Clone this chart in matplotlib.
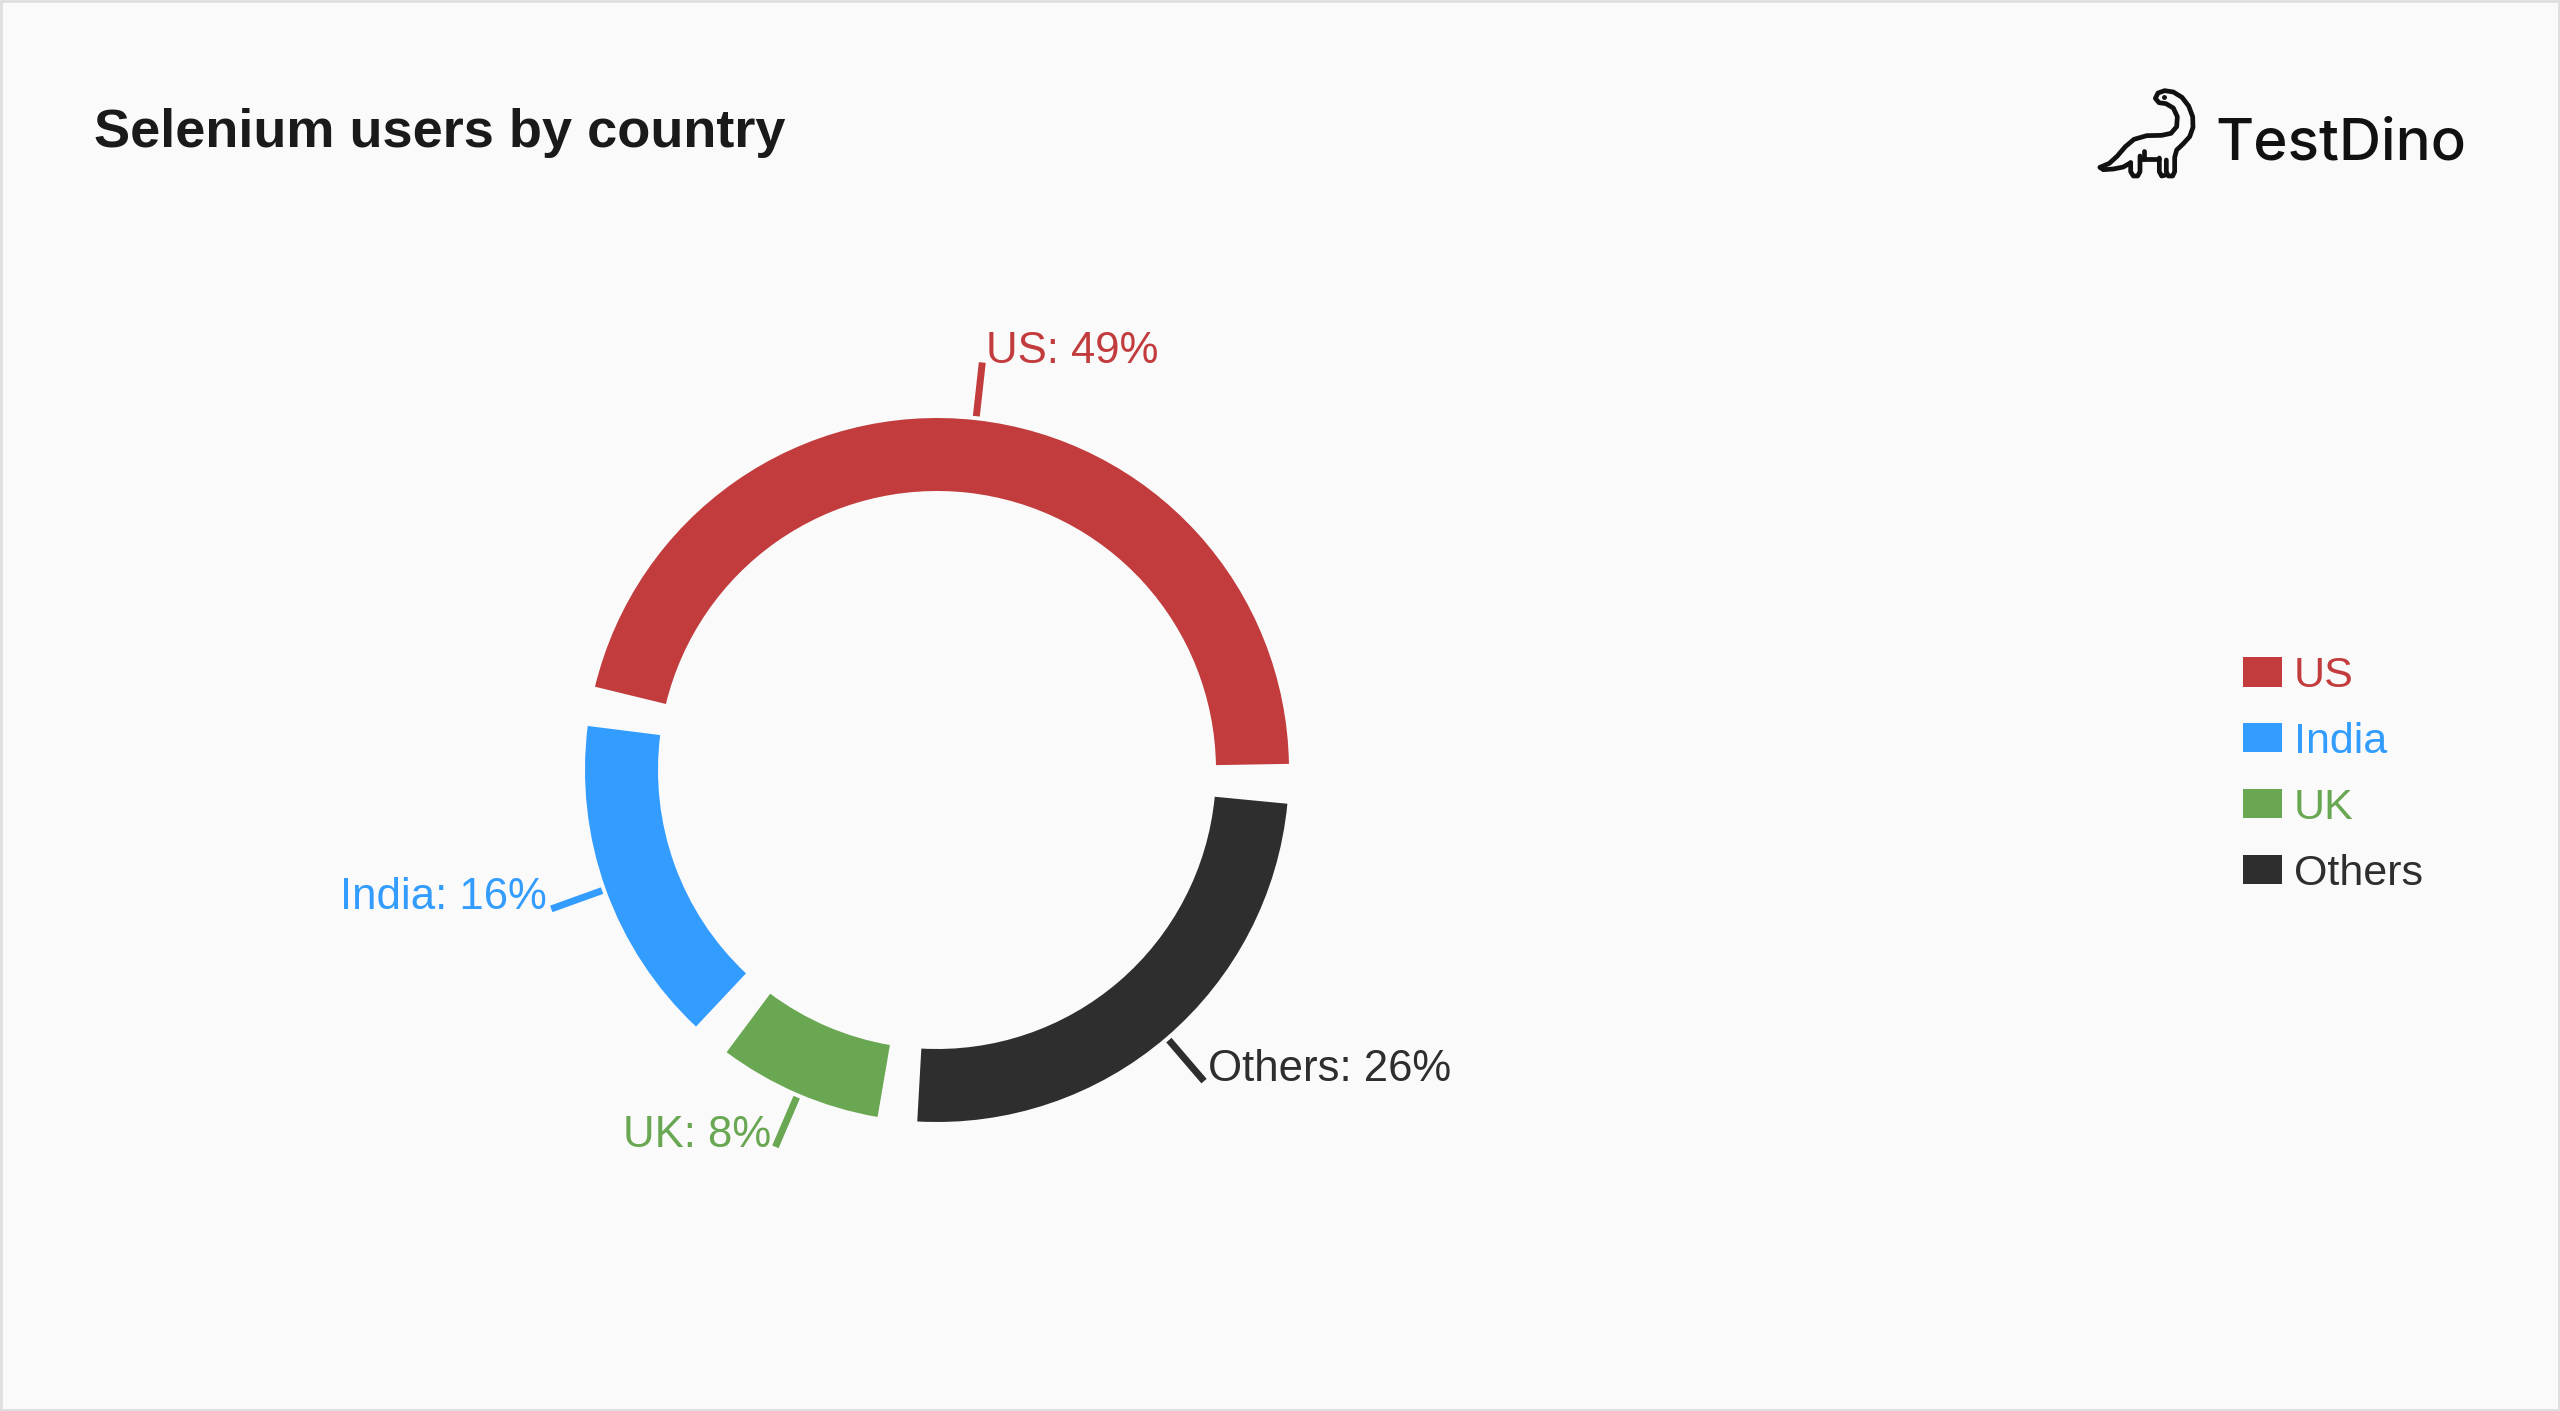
import numpy as np
import matplotlib.pyplot as plt
from matplotlib.patches import Wedge, Patch, Rectangle

# ---- data
countries = ["US", "India", "UK", "Others"]
shares = [49, 16, 8, 26]
colors = ["#C23C3D", "#339CFF", "#6AA753", "#2E2E2E"]

# ---- figure
W, H = 2560, 1411
fig = plt.figure(figsize=(W / 100, H / 100), dpi=100, facecolor="#FAFAFA")

bg = fig.add_axes([0, 0, 1, 1])
bg.set_xlim(0, W)
bg.set_ylim(H, 0)
bg.axis("off")
bg.add_patch(Rectangle((1, 1), W - 2, H - 2, fill=False, ec="#DEDEDE", lw=2))

bg.text(94, 147, "Selenium users by country", fontsize=39, weight="bold",
        color="#1A1A1A", family="Liberation Sans", va="baseline")

# logo: little dino + wordmark
def dino(pts):
    xs = [2060 + p[0] / 3 for p in pts]
    ys = [70 + p[1] / 3 for p in pts]
    bg.plot(xs, ys, color="#111111", lw=3.4, solid_capstyle="round",
            solid_joinstyle="round")

dino([(120, 292), (148, 280), (172, 258), (196, 230), (222, 208), (260, 197),
      (305, 196), (333, 190), (350, 170), (352, 140), (340, 114), (318, 101),
      (297, 98), (286, 85), (294, 69), (314, 62), (340, 66), (366, 82),
      (386, 108), (398, 140), (399, 172), (389, 200), (369, 222), (350, 240),
      (344, 262), (344, 305), (338, 318), (325, 318), (319, 305), (319, 270)])
dino([(298, 264), (298, 305), (305, 318), (314, 316)])
dino([(298, 268), (242, 268)])
dino([(240, 258), (240, 305), (233, 318), (220, 318), (212, 305), (212, 278)])
dino([(212, 278), (190, 291), (160, 297), (130, 299), (120, 292)])
dino([(252, 242), (252, 268)])
bg.plot([2060 + 313 / 3], [70 + 80 / 3], "o", color="#111111", ms=2.5)

bg.text(2215, 159, "TestDino", fontsize=42, family="Inter", weight="medium",
        color="#111111", va="baseline")

# ---- donut (1 data unit = 1 pixel)
cx, cy, half = 937, 770, 470
ax = fig.add_axes([(cx - half) / W, (H - cy - half) / H, 2 * half / W, 2 * half / H])
ax.set_xlim(-half, half)
ax.set_ylim(-half, half)
ax.axis("off")

r_out, r_in = 352, 279
pad = 6.5
span = 360 - pad * len(shares)
total = sum(shares)
theta = 1.0
for name, v, c in zip(countries, shares, colors):
    sweep = v / total * span
    ax.add_patch(Wedge((0, 0), r_out, theta, theta + sweep, width=r_out - r_in,
                       fc=c, ec="none"))
    mid = np.radians(theta + sweep / 2)
    x0, y0 = 356 * np.cos(mid), 356 * np.sin(mid)
    x1, y1 = 410 * np.cos(mid), 410 * np.sin(mid)
    ax.plot([x0, x1], [y0, y1], color=c, lw=5, solid_capstyle="butt")
    right = np.cos(mid) >= 0
    ax.text(x1 + (4 if right else -4), y1, f"{name}: {v}%",
            ha="left" if right else "right", va="baseline", color=c,
            fontsize=31.5, family="Liberation Sans")
    theta += sweep + pad

# ---- legend
handles = [Patch(fc=c, ec="none") for c in colors]
fig.legend(handles, countries, loc="upper left",
           bbox_to_anchor=(2243 / W, 1 - 656 / H), frameon=False,
           prop={"family": "Liberation Sans", "size": 31},
           handlelength=0.9, handleheight=0.67, handletextpad=0.28,
           labelspacing=0.6, borderpad=0, borderaxespad=0, labelcolor=colors)

fig.savefig("out.png", dpi=100, facecolor=fig.get_facecolor())
